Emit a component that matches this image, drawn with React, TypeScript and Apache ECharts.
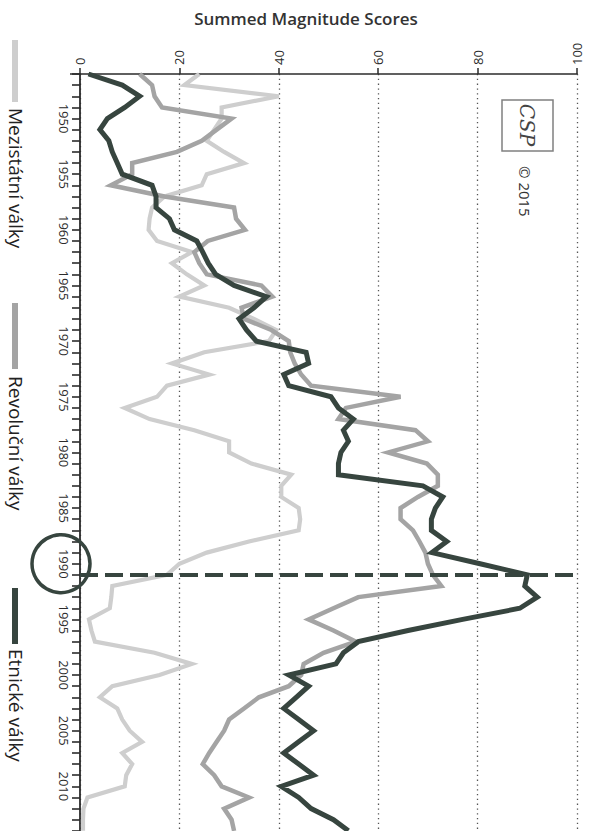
import React, { useEffect, useRef } from "react";
import * as echarts from "echarts";

const YEARS = [
  1946, 1947, 1948, 1949, 1950, 1951, 1952, 1953, 1954, 1955, 1956, 1957, 1958, 1959,
  1960, 1961, 1962, 1963, 1964, 1965, 1966, 1967, 1968, 1969, 1970, 1971, 1972, 1973,
  1974, 1975, 1976, 1977, 1978, 1979, 1980, 1981, 1982, 1983, 1984, 1985, 1986, 1987,
  1988, 1989, 1990, 1991, 1992, 1993, 1994, 1995, 1996, 1997, 1998, 1999, 2000, 2001,
  2002, 2003, 2004, 2005, 2006, 2007, 2008, 2009, 2010, 2011, 2012, 2013, 2014,
];

const INTERSTATE = [
  24, 21, 40, 28.5, 28.5, 27, 25.5, 29, 33, 25.5, 24.5, 17, 14.5, 14,
  13.8, 15.5, 22.5, 18.5, 21.5, 25, 20, 30, 35, 39.5, 38, 25, 18.5, 26,
  17.5, 15.5, 9, 14, 23, 30, 30, 34.5, 42.5, 40.5, 40.5, 44, 44.3, 44,
  34, 25.5, 20, 17.5, 6.5, 6.3, 6, 1.8, 2.3, 3, 15, 22.5, 16, 6.5,
  4, 7.5, 8.5, 10, 12.5, 8.5, 10.5, 9.3, 9, 1.5, 0.7, 0.6, 0.6,
];

const REVOLUTIONARY = [
  12, 14.5, 15, 16.5, 30.5, 27.5, 24.5, 19.5, 10.5, 10.5, 6.2, 17, 31, 31.4,
  33.2, 25.7, 23, 24, 25.5, 36.5, 38.7, 32.5, 33, 38.5, 42, 42.3, 43.2, 44.5,
  46.5, 64.5, 53.5, 52, 67.5, 70, 62, 69.8, 72, 72, 68, 64.5, 64.5, 67,
  68.3, 69.5, 70, 71, 72.7, 56, 51, 46, 51, 55.5, 49, 45, 44.5, 42,
  36, 33, 30, 29, 27.5, 26, 24.7, 27, 28.5, 34, 29, 30.5, 31,
];

const ETHNIC = [
  1.7, 8.5, 12, 9, 5.5, 4, 5.8, 6.5, 7.5, 8.5, 14.5, 15.3, 15.3, 18,
  19, 23.5, 24.7, 25.8, 27.3, 31, 37.5, 35, 32, 33.5, 35.5, 45.5, 46, 41,
  42, 50.5, 52, 55, 53, 54, 52.5, 52, 52, 69, 73, 71.5, 70.7, 70.7,
  73.8, 70.8, 80.5, 90, 89.5, 92, 88.5, 77, 66, 56, 53, 51.5, 42, 46,
  43.5, 41, 44, 47, 44, 41, 44, 47, 40.5, 44, 46.5, 51, 54,
];

const SERIES_NAMES = ["Mezistátní války", "Revoluční války", "Etnické války"];
const SERIES_DATA = [INTERSTATE, REVOLUTIONARY, ETHNIC];
const SERIES_COLORS = ["#cecece", "#a4a4a4", "#37453f"];
const SERIES_WIDTHS = [4.2, 4.5, 5];

const TITLE = "Summed Magnitude Scores";
const VALUE_MIN = 0;
const VALUE_MAX = 100;
const VALUE_STEP = 20;
const YEAR_MIN = 1946;
const YEAR_MAX = 2015;
const YEAR_LABEL_STEP = 5;
const MARKED_YEAR = 1991;
const CIRCLED_LABEL_YEAR = 1990;
const COPYRIGHT = "© 2015";

const FONT = "'Open Sans', 'Noto Sans', sans-serif";
const INK = "#2b2b2b";
const DARK = "#37453f";

export default function App() {
  const ref = useRef<HTMLDivElement>(null);

  useEffect(() => {
    document.body.style.margin = "0";
    document.body.style.overflow = "hidden";
    document.documentElement.style.overflow = "hidden";
    if (!ref.current) return;
    const chart = echarts.init(ref.current, null, { renderer: "svg" });

    const series: any[] = SERIES_NAMES.map((name, i) => ({
      name,
      type: "line",
      data: YEARS.map((y, j) => [SERIES_DATA[i][j], y]),
      showSymbol: false,
      symbol: "none",
      z: 2 + i,
      lineStyle: { color: SERIES_COLORS[i], width: SERIES_WIDTHS[i], join: "miter" },
      itemStyle: { color: SERIES_COLORS[i] },
    }));
    series.push({
      name: "marker",
      type: "line",
      data: [],
      z: 10,
      markLine: {
        silent: true,
        symbol: ["none", "none"],
        label: { show: false },
        lineStyle: { color: DARK, width: 4, type: [18, 7] },
        data: [{ yAxis: MARKED_YEAR }],
      },
    });

    chart.setOption({
      animation: false,
      backgroundColor: "#ffffff",
      grid: { left: 80, right: 12, top: 74, bottom: 2 },
      xAxis: {
        type: "value",
        position: "top",
        min: VALUE_MIN,
        max: VALUE_MAX,
        interval: VALUE_STEP,
        axisLine: { show: true, lineStyle: { color: INK, width: 1.5 } },
        axisTick: { show: true, length: 6, lineStyle: { color: INK, width: 1.5 } },
        axisLabel: {
          rotate: -90,
          margin: 9,
          color: INK,
          fontSize: 13,
          fontFamily: FONT,
        },
        splitLine: {
          show: true,
          lineStyle: { color: "#555", width: 1.3, type: [1.3, 3.5] },
        },
      },
      yAxis: {
        type: "value",
        inverse: true,
        min: YEAR_MIN,
        max: YEAR_MAX,
        interval: 1,
        axisLine: { show: true, onZero: false, lineStyle: { color: INK, width: 1.8 } },
        axisTick: { show: true, length: 8, lineStyle: { color: INK, width: 1.6 } },
        axisLabel: {
          rotate: -90,
          margin: 10,
          color: INK,
          fontSize: 13,
          fontFamily: FONT,
          formatter: (v: number) => (v % YEAR_LABEL_STEP === 0 && v < YEAR_MAX ? String(v) : ""),
        },
        splitLine: { show: false },
      },
      series,
    });

    const yCircle = chart.convertToPixel({ yAxisIndex: 0 }, CIRCLED_LABEL_YEAR) as number;

    const legendSwatches = [
      { y: 40, h: 62, text: 108 },
      { y: 303, h: 66, text: 376 },
      { y: 588, h: 56, text: 649 },
    ];

    const graphics: any[] = [
      {
        type: "text",
        x: 306,
        y: 18,
        style: {
          text: TITLE,
          fill: "#333",
          font: `600 17px ${FONT}`,
          textAlign: "center",
          textVerticalAlign: "middle",
        },
      },
      {
        type: "line",
        shape: { x1: 70, y1: 74, x2: 80, y2: 74 },
        style: { stroke: INK, lineWidth: 1.5 },
      },
      {
        type: "rect",
        shape: { x: 502, y: 100, width: 51, height: 51 },
        style: { fill: "#fff", stroke: "#808080", lineWidth: 1.5 },
        z: 20,
      },
      {
        type: "text",
        x: 527,
        y: 125,
        rotation: -Math.PI / 2,
        style: {
          text: "CSP",
          fill: "#444",
          font: `italic 20px 'DejaVu Serif', serif`,
          textAlign: "center",
          textVerticalAlign: "middle",
        },
        z: 21,
      },
      {
        type: "text",
        x: 525,
        y: 166,
        rotation: -Math.PI / 2,
        style: {
          text: COPYRIGHT,
          fill: "#333",
          font: `15px ${FONT}`,
          textAlign: "left",
          textVerticalAlign: "middle",
        },
        z: 20,
      },
      {
        type: "circle",
        shape: { cx: 61, cy: yCircle, r: 29 },
        style: { fill: "none", stroke: DARK, lineWidth: 3.5 },
        z: 20,
      },
    ];

    SERIES_NAMES.forEach((name, i) => {
      const s = legendSwatches[i];
      graphics.push({
        type: "rect",
        shape: { x: 12, y: s.y, width: 6, height: s.h },
        style: { fill: SERIES_COLORS[i] },
      });
      graphics.push({
        type: "text",
        x: 16,
        y: s.text,
        rotation: -Math.PI / 2,
        style: {
          text: name,
          fill: "#222",
          font: `19px ${FONT}`,
          textAlign: "left",
          textVerticalAlign: "middle",
        },
      });
    });

    chart.setOption({ graphic: graphics });

    return () => chart.dispose();
  }, []);

  return (
    <div
      ref={ref}
      style={{ position: "absolute", left: 0, top: 0, width: 589, height: 845 }}
    />
  );
}
